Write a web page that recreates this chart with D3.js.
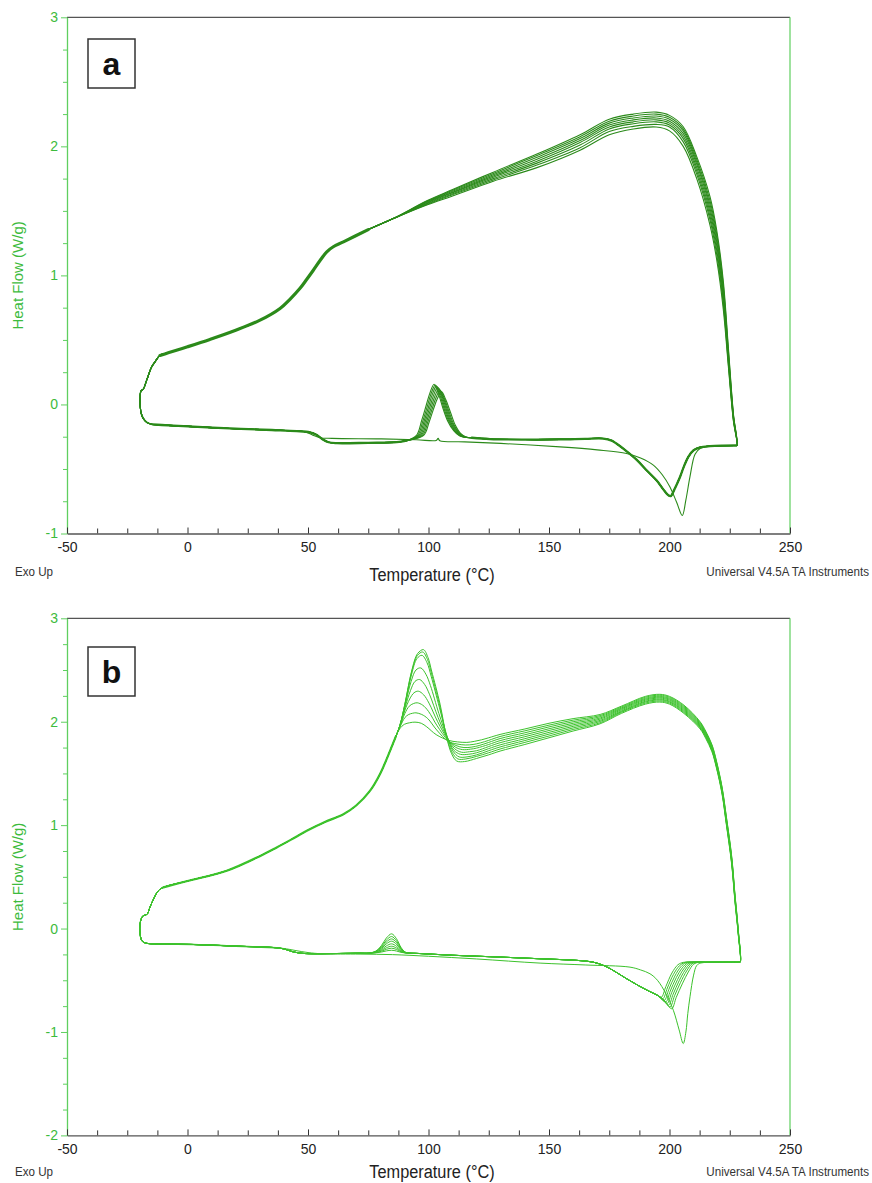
<!DOCTYPE html>
<html>
<head>
<meta charset="utf-8">
<script src="https://cdn.jsdelivr.net/npm/d3@7"></script>
<style>
  body { margin: 0; background: #fff; }
  svg { display: block; }
</style>
</head>
<body>
<svg id="chart" width="872" height="1183"></svg>
<script>
// ---------------- shared axis values ----------------
const X_TICKS = [-50, 0, 50, 100, 150, 200, 250];
const A_Y_TICKS = [-1, 0, 1, 2, 3];
const B_Y_TICKS = [-2, -1, 0, 1, 2, 3];
const X_TITLE = "Temperature (°C)";
const Y_TITLE = "Heat Flow (W/g)";
const NOTE_LEFT = "Exo Up";
const NOTE_RIGHT = "Universal V4.5A TA Instruments";

// ---------------- panel a : [T (°C), heat flow (W/g)] ----------------
// return from the cooling end at -20 °C into the next heating scan
const A_LEFT_END = [[-11.4,0.38],[-13.5,0.33],[-14.9,0.29],[-16.9,0.19],[-18.3,0.12],[-19.3,0.105],[-19.7,0.04],[-19.6,-0.02],[-19.2,-0.07],[-18.3,-0.11],[-16.8,-0.14]];
// heating scan, common start
const A_HEAT_START = [[-14.5,-0.155],[-8,-0.162],[-1.7,-0.168],[17.6,-0.186],[35,-0.198],[45.3,-0.206]];
// heating scans 2-8 : glass step
const A_HEAT_LATER = [[50.8,-0.216],[53.5,-0.235],[56,-0.27],[58.5,-0.293],[62,-0.3],[75,-0.297],[86.8,-0.292],[91,-0.28]];
// heating scans 2-8 : cold crystallisation peaks
const A_COLD_CRYST = [
  [[95,-0.24],[97.2,-0.122],[99,-0.01],[100.6,0.09],[102.3,0.157],[104,0.09],[106,-0.03],[108,-0.13],[110.3,-0.2],[113,-0.245]],
  [[95.5,-0.24],[97.7,-0.125],[99.5,-0.015],[101.1,0.085],[102.8,0.15],[104.5,0.085],[106.5,-0.035],[108.5,-0.135],[110.8,-0.205],[113.5,-0.246]],
  [[96,-0.24],[98.2,-0.128],[100,-0.02],[101.6,0.078],[103.3,0.142],[105,0.078],[107,-0.04],[109,-0.14],[111.3,-0.21],[114,-0.248]],
  [[96.5,-0.24],[98.7,-0.13],[100.5,-0.025],[102.1,0.07],[103.8,0.133],[105.5,0.07],[107.5,-0.045],[109.5,-0.145],[111.8,-0.213],[114.5,-0.25]],
  [[97,-0.24],[99.2,-0.133],[101,-0.03],[102.6,0.062],[104.3,0.122],[106,0.06],[108,-0.05],[110,-0.15],[112.3,-0.216],[115,-0.252]],
  [[97.5,-0.24],[99.7,-0.136],[101.5,-0.035],[103.1,0.052],[104.8,0.11],[106.5,0.05],[108.5,-0.055],[110.5,-0.155],[112.8,-0.22],[115.5,-0.254]],
  [[98,-0.24],[100.2,-0.14],[102,-0.04],[103.6,0.042],[105.4,0.098],[107.1,0.04],[109.1,-0.06],[111.1,-0.16],[113.3,-0.224],[116,-0.256]]
];
// heating scans 2-8 : baseline and melting
const A_HEAT_LATER_END = [[118,-0.258],[125.5,-0.268],[140,-0.272],[154.6,-0.271],[165,-0.266],[172.5,-0.264],[176,-0.28],[178.1,-0.305],[182,-0.36],[186.4,-0.43],[190.5,-0.51],[194.7,-0.59],[197.5,-0.66],[199.5,-0.703],[200.5,-0.71],[202,-0.66],[204.4,-0.56],[206,-0.48],[207.8,-0.406],[210,-0.355],[212.7,-0.332],[216.8,-0.323],[222,-0.319],[227.5,-0.318]];
// first heating scan
const A_HEAT_FIRST = [[49,-0.213],[52,-0.238],[55,-0.258],[60,-0.263],[80,-0.267],[95,-0.273],[103.2,-0.279],[104,-0.263],[104.7,-0.281],[115,-0.29],[130,-0.302],[154.6,-0.329],[170,-0.352],[182.2,-0.38],[188,-0.415],[193.3,-0.47],[197,-0.545],[200.2,-0.64],[203,-0.76],[205.3,-0.86],[206.8,-0.74],[208.5,-0.56],[210.6,-0.385],[212.7,-0.342],[216,-0.326],[222,-0.32],[227.5,-0.318]];
// cooling scans, common low-temperature part (increasing T)
const A_COOL_LEFT = [[-11.4,0.38],[-8,0.4],[0,0.447],[9.3,0.504],[20,0.575],[30.1,0.653],[38.4,0.744],[42.5,0.815],[46.7,0.9],[49.5,0.97],[52.2,1.04],[55,1.115],[57.8,1.183],[60.5,1.222],[64.7,1.26],[75,1.355],[85.4,1.44]];
// cooling scans 1-8, high-temperature part
const A_COOL_T = [85.4, 99.3, 110, 126.9, 145, 162.9, 175, 185, 194.5, 200, 205.7, 211.3, 216.8, 219.6, 222.3, 224.4, 226.5, 228.0];
const A_COOL_HF = [
  [1.44,1.578,1.665,1.80,1.94,2.09,2.21,2.25,2.265,2.24,2.152,1.92,1.61,1.35,0.96,0.447,-0.07,-0.318],
  [1.44,1.574,1.66,1.79,1.93,2.075,2.195,2.235,2.25,2.225,2.135,1.9,1.58,1.32,0.93,0.425,-0.078,-0.318],
  [1.44,1.57,1.652,1.78,1.915,2.06,2.18,2.22,2.235,2.21,2.12,1.88,1.55,1.29,0.90,0.40,-0.086,-0.318],
  [1.44,1.565,1.645,1.77,1.90,2.045,2.165,2.205,2.22,2.195,2.10,1.86,1.52,1.26,0.87,0.38,-0.094,-0.318],
  [1.44,1.56,1.64,1.76,1.885,2.03,2.15,2.19,2.205,2.18,2.08,1.835,1.49,1.23,0.84,0.36,-0.102,-0.318],
  [1.44,1.555,1.632,1.75,1.87,2.01,2.135,2.175,2.19,2.165,2.06,1.81,1.46,1.195,0.81,0.34,-0.11,-0.318],
  [1.44,1.55,1.625,1.74,1.855,1.99,2.115,2.155,2.17,2.15,2.035,1.785,1.43,1.16,0.78,0.32,-0.118,-0.318],
  [1.44,1.545,1.615,1.73,1.835,1.97,2.09,2.135,2.15,2.12,2.00,1.75,1.39,1.12,0.74,0.30,-0.126,-0.318]
];

// ---------------- panel b : [T (°C), heat flow (W/g)] ----------------
const B_LEFT_END = [[-10,0.398],[-12.1,0.366],[-14,0.29],[-15.6,0.205],[-16.7,0.14],[-17.6,0.13],[-18.6,0.12],[-19.5,0.07],[-19.8,0.0],[-19.5,-0.08],[-18.7,-0.125],[-17,-0.142]];
const B_HEAT_START = [[-13,-0.15],[2.4,-0.154],[20,-0.17],[37,-0.186]];
const B_HEAT_LATER = [[40.5,-0.2],[43.9,-0.226],[48,-0.24],[52.2,-0.244],[60,-0.242],[71.6,-0.238]];
// heating scans 2-9 : small exotherm near 85 °C
const B_BUMP = [
  [[75,-0.238],[78,-0.219],[80.5,-0.163],[82.5,-0.092],[84.7,-0.051],[86.7,-0.098],[88.6,-0.182],[90.3,-0.227],[92.5,-0.238]],
  [[75,-0.238],[78,-0.222],[80.5,-0.174],[82.5,-0.112],[84.7,-0.077],[86.7,-0.117],[88.6,-0.19],[90.3,-0.228],[92.5,-0.238]],
  [[75,-0.238],[78,-0.224],[80.5,-0.183],[82.5,-0.13],[84.7,-0.1],[86.7,-0.134],[88.6,-0.197],[90.3,-0.23],[92.5,-0.238]],
  [[75,-0.238],[78,-0.226],[80.5,-0.192],[82.5,-0.148],[84.7,-0.122],[86.7,-0.151],[88.6,-0.203],[90.3,-0.231],[92.5,-0.238]],
  [[75,-0.238],[78,-0.229],[80.5,-0.202],[82.5,-0.168],[84.7,-0.148],[86.7,-0.171],[88.6,-0.211],[90.3,-0.233],[92.5,-0.238]],
  [[75,-0.238],[78,-0.231],[80.5,-0.211],[82.5,-0.186],[84.7,-0.171],[86.7,-0.188],[88.6,-0.218],[90.3,-0.234],[92.5,-0.238]],
  [[75,-0.238],[78,-0.233],[80.5,-0.219],[82.5,-0.201],[84.7,-0.19],[86.7,-0.202],[88.6,-0.224],[90.3,-0.235],[92.5,-0.238]],
  [[75,-0.238],[78,-0.235],[80.5,-0.227],[82.5,-0.216],[84.7,-0.21],[86.7,-0.217],[88.6,-0.23],[90.3,-0.236],[92.5,-0.238]]
];
const B_HEAT_LATER_MID = [[95,-0.24],[110,-0.258],[130,-0.276],[146.3,-0.292],[155,-0.3],[162.9,-0.31],[168.4,-0.325],[173,-0.36],[177,-0.41],[182.2,-0.485],[187,-0.55],[191.9,-0.61],[195,-0.645]];
// heating scans 2-9 : melting endotherms
const B_MELT = [
  [[196.6,-0.665],[198.5,-0.56],[201,-0.43],[203.5,-0.35],[205.7,-0.327],[209,-0.323]],
  [[197.2,-0.68],[199.1,-0.575],[201.6,-0.445],[204.1,-0.36],[206.3,-0.328],[209.5,-0.323]],
  [[197.8,-0.695],[199.7,-0.59],[202.2,-0.46],[204.7,-0.37],[206.9,-0.33],[210,-0.324]],
  [[198.4,-0.71],[200.3,-0.605],[202.8,-0.475],[205.3,-0.38],[207.5,-0.333],[210.5,-0.324]],
  [[197,-0.675],[199,-0.725],[200.9,-0.62],[203.4,-0.49],[205.9,-0.39],[208.1,-0.336],[211,-0.325]],
  [[197,-0.677],[199.6,-0.74],[201.5,-0.635],[204,-0.505],[206.5,-0.4],[208.7,-0.339],[211.5,-0.325]],
  [[197.5,-0.69],[200.2,-0.757],[202.1,-0.65],[204.6,-0.52],[207.1,-0.41],[209.3,-0.342],[212,-0.325]],
  [[198,-0.7],[200.9,-0.775],[202.8,-0.665],[205.3,-0.535],[207.8,-0.42],[210,-0.345],[212.5,-0.325]]
];
const B_HEAT_LATER_END = [[215,-0.325],[222,-0.325],[228.8,-0.325]];
const B_HEAT_FIRST = [[41,-0.196],[45,-0.213],[50,-0.232],[56,-0.244],[71.6,-0.247],[85,-0.252],[100,-0.268],[120,-0.294],[146.3,-0.334],[165,-0.352],[183.6,-0.373],[188,-0.4],[191.9,-0.437],[195,-0.5],[198.5,-0.63],[201.6,-0.79],[204,-0.98],[205.7,-1.112],[206.8,-1.0],[207.6,-0.82],[208.5,-0.66],[210,-0.45],[211.3,-0.357],[213,-0.333],[216,-0.327],[222,-0.325],[228.8,-0.325]];
// cooling scans, common low-temperature part (increasing T)
const B_COOL_LEFT = [[-10,0.398],[0,0.46],[16.3,0.559],[30,0.7],[37,0.784],[43,0.86],[49.5,0.945],[57,1.03],[64.7,1.106],[70,1.19],[75.7,1.331],[80,1.5],[84,1.716],[86.5,1.86]];
// cooling scans 1-9 : crystallisation exotherms
const B_XTAL = [
  [[88.2,1.97],[90.2,2.17],[93,2.49],[95.5,2.66],[97.9,2.697],[99.8,2.62],[101.3,2.49],[104.8,2.17],[107.5,1.85],[109.6,1.69],[111.7,1.62],[115,1.615],[120,1.645],[125,1.68]],
  [[88.2,1.97],[90.2,2.17],[93,2.48],[95.4,2.64],[97.6,2.674],[99.6,2.6],[101.2,2.47],[104.6,2.16],[107.6,1.85],[109.9,1.7],[112.2,1.64],[115.5,1.64],[120,1.665],[125,1.7]],
  [[88.2,1.97],[90.2,2.16],[93,2.46],[95.2,2.61],[97.3,2.642],[99.4,2.57],[101.1,2.44],[104.5,2.14],[107.7,1.86],[110.2,1.715],[112.7,1.66],[116,1.66],[120,1.68],[125,1.72]],
  [[88.2,1.97],[90.2,2.15],[92.8,2.39],[94.8,2.5],[96.8,2.52],[98.9,2.46],[100.8,2.35],[104.3,2.08],[107.8,1.85],[110.5,1.725],[113.2,1.685],[116.5,1.685],[120,1.7],[125,1.74]],
  [[88.2,1.965],[90.2,2.13],[92.5,2.3],[94.4,2.39],[96.3,2.408],[98.4,2.36],[100.5,2.26],[104,2.04],[107.9,1.84],[110.8,1.74],[113.7,1.705],[117,1.71],[120,1.72],[125,1.76]],
  [[88.2,1.96],[90.2,2.11],[92.2,2.22],[94,2.28],[95.8,2.295],[98,2.26],[100.2,2.18],[103.8,2.0],[108,1.83],[111.1,1.755],[114.2,1.73],[117.5,1.735],[120,1.745],[125,1.78]],
  [[88.2,1.955],[90.2,2.08],[92,2.15],[93.7,2.175],[95.3,2.183],[97.6,2.16],[100,2.1],[103.6,1.96],[108.1,1.82],[111.4,1.77],[114.7,1.75],[118,1.755],[121,1.77],[125,1.8]],
  [[88.2,1.95],[90.2,2.04],[91.8,2.07],[93.4,2.082],[94.8,2.086],[97.2,2.07],[99.7,2.03],[103.4,1.92],[108.2,1.81],[111.8,1.785],[115.3,1.775],[118.5,1.78],[121.5,1.795],[125,1.82]],
  [[88,1.93],[90,1.975],[92.2,1.99],[94.4,1.996],[97,1.985],[99.3,1.95],[103.2,1.875],[108.3,1.82],[112,1.805],[115.9,1.8],[119,1.81],[122,1.825],[125,1.845]]
];
const B_COOL_T = [129.7, 140, 150, 160, 171.2, 180, 190, 196, 200, 206, 212.7, 215, 217.6, 219.5, 221.8, 223.5, 225.8, 227.2, 228.5, 229.3];
const B_COOL_HF = [
  [1.716,1.78,1.845,1.91,1.98,2.08,2.17,2.19,2.17,2.08,1.93,1.84,1.71,1.55,1.30,1.02,0.62,0.25,-0.05,-0.325],
  [1.736,1.80,1.862,1.925,1.99,2.09,2.18,2.20,2.18,2.09,1.94,1.85,1.72,1.56,1.31,1.03,0.63,0.26,-0.045,-0.325],
  [1.756,1.818,1.88,1.94,2.002,2.097,2.19,2.21,2.19,2.10,1.948,1.858,1.728,1.568,1.318,1.04,0.64,0.268,-0.038,-0.325],
  [1.776,1.836,1.897,1.955,2.013,2.105,2.198,2.218,2.198,2.11,1.956,1.866,1.736,1.576,1.326,1.05,0.65,0.276,-0.031,-0.325],
  [1.797,1.855,1.915,1.97,2.025,2.115,2.208,2.228,2.208,2.12,1.965,1.875,1.745,1.585,1.335,1.06,0.66,0.285,-0.025,-0.325],
  [1.817,1.874,1.932,1.985,2.036,2.124,2.217,2.237,2.217,2.13,1.974,1.884,1.754,1.594,1.344,1.07,0.67,0.294,-0.019,-0.325],
  [1.837,1.893,1.95,2.0,2.048,2.132,2.226,2.246,2.226,2.14,1.983,1.893,1.763,1.603,1.353,1.08,0.68,0.303,-0.013,-0.325],
  [1.857,1.912,1.967,2.015,2.059,2.141,2.236,2.256,2.236,2.15,1.992,1.902,1.772,1.612,1.362,1.09,0.69,0.312,-0.006,-0.325],
  [1.877,1.93,1.985,2.03,2.07,2.15,2.245,2.265,2.245,2.16,2.00,1.91,1.78,1.62,1.37,1.10,0.70,0.32,0.0,-0.325]
];

// ---------------- assemble closed heat/cool loops ----------------
const zip = (ts, hs) => ts.map((t, i) => [t, hs[i]]);

function loop(heat, coolIncreasing, leftEnd) {
  return [...heat, ...coolIncreasing.slice().reverse(), ...leftEnd.slice(1), heat[0]];
}

const aLoops = A_COOL_HF.map((row, k) => {
  const heat = k === 0
    ? [...A_HEAT_START, ...A_HEAT_FIRST]
    : [...A_HEAT_START, ...A_HEAT_LATER, ...A_COLD_CRYST[k - 1], ...A_HEAT_LATER_END];
  const cool = [...A_COOL_LEFT, ...zip(A_COOL_T, row).slice(1)];
  return loop(heat, cool, A_LEFT_END);
});

const bLoops = B_COOL_HF.map((row, k) => {
  const heat = k === 0
    ? [...B_HEAT_START, ...B_HEAT_FIRST]
    : [...B_HEAT_START, ...B_HEAT_LATER, ...B_BUMP[k - 1], ...B_HEAT_LATER_MID, ...B_MELT[k - 1], ...B_HEAT_LATER_END];
  const cool = [...B_COOL_LEFT, ...B_XTAL[k], ...zip(B_COOL_T, row)];
  return loop(heat, cool, B_LEFT_END);
});

// ---------------- drawing ----------------
const AXIS_GREEN = "#5fcf5f";
const LABEL_GREEN = "#3dbb3d";
const FRAME_GREY = "#555";
const SANS = "'Liberation Sans', Arial, sans-serif";

const svg = d3.select("#chart");

const panels = [
  {
    top: 17.3, bottom: 533.5, yDomain: [-1, 3], yTicks: A_Y_TICKS,
    loops: aLoops, color: "#2b8a1a", width: 1.1,
    bundles: [
      { pts: [...A_HEAT_START, ...A_HEAT_LATER], w: 2.3 },
      { pts: A_HEAT_LATER_END, w: 2.3 },
      { pts: A_COOL_LEFT.slice(0, -1), w: 3.2 }
    ],
    tag: "a", box: [88, 39, 47, 49],
    titleY: 581, noteY: 576
  },
  {
    top: 618.3, bottom: 1135.4, yDomain: [-2, 3], yTicks: B_Y_TICKS,
    loops: bLoops, color: "#3cc22c", width: 1.0,
    bundles: [
      { pts: B_HEAT_START, w: 1.6 },
      { pts: B_COOL_LEFT, w: 2.2 }
    ],
    tag: "b", box: [88, 647, 47, 49],
    titleY: 1177.5, noteY: 1176
  }
];

// condensed-looking caption text (horizontal squeeze of a regular face)
function narrowText(g, txt, x, yBase, size, anchor, fill) {
  g.append("text")
    .attr("transform", `translate(${x},${yBase}) scale(0.86,1)`)
    .attr("text-anchor", anchor)
    .style("font-family", SANS).style("font-size", size + "px")
    .attr("fill", fill)
    .text(txt);
}

panels.forEach(p => {
  const x = d3.scaleLinear().domain([-50, 250]).range([67, 790]);
  const y = d3.scaleLinear().domain(p.yDomain).range([p.bottom, p.top]);
  const g = svg.append("g");

  const line = d3.line()
    .x(d => x(d[0]))
    .y(d => y(d[1]))
    .curve(d3.curveCatmullRom.alpha(0.5));

  // thermograms
  g.append("g").selectAll("path").data(p.loops).join("path")
    .attr("d", line)
    .attr("fill", "none")
    .attr("stroke", p.color)
    .attr("stroke-width", p.width)
    .attr("stroke-linejoin", "round");

  // stretches where all scans coincide
  g.append("g").selectAll("path").data(p.bundles).join("path")
    .attr("d", d => line(d.pts))
    .attr("fill", "none")
    .attr("stroke", p.color)
    .attr("stroke-width", d => d.w)
    .attr("stroke-linecap", "round")
    .attr("stroke-linejoin", "round");

  // frame: top grey, right green
  g.append("line")
    .attr("x1", x(-50)).attr("x2", x(250)).attr("y1", p.top).attr("y2", p.top)
    .attr("stroke", FRAME_GREY).attr("stroke-width", 1.2);
  g.append("line")
    .attr("x1", x(250)).attr("x2", x(250)).attr("y1", p.top).attr("y2", p.bottom)
    .attr("stroke", AXIS_GREEN).attr("stroke-width", 1.2);

  // y axis (minor then major)
  const yMinor = d3.range(p.yDomain[0], p.yDomain[1] + 1e-9, 0.25).filter(v => !Number.isInteger(v));
  const gyMinor = g.append("g").attr("transform", `translate(${x(-50)},0)`)
    .call(d3.axisLeft(y).tickValues(yMinor).tickSize(4).tickSizeOuter(0).tickFormat(""));
  gyMinor.select(".domain").remove();
  gyMinor.selectAll(".tick line").attr("stroke", AXIS_GREEN);

  const gy = g.append("g").attr("transform", `translate(${x(-50)},0)`)
    .call(d3.axisLeft(y).tickValues(p.yTicks).tickSize(6).tickSizeOuter(0).tickPadding(3).tickFormat(d => String(d)));
  gy.select(".domain").attr("stroke", AXIS_GREEN).attr("stroke-width", 1.3);
  gy.selectAll(".tick line").attr("stroke", AXIS_GREEN);
  gy.selectAll(".tick text").attr("fill", LABEL_GREEN).style("font-family", SANS).style("font-size", "14px");

  // x axis (minor then major), ticks pointing inward
  const xMinor = d3.range(-50, 250 + 1e-9, 12.5).filter(v => v % 50 !== 0);
  const gxMinor = g.append("g").attr("transform", `translate(0,${p.bottom})`)
    .call(d3.axisBottom(x).tickValues(xMinor).tickSizeInner(-5).tickSizeOuter(0).tickFormat(""));
  gxMinor.select(".domain").remove();
  gxMinor.selectAll(".tick line").attr("stroke", "#333");

  const gx = g.append("g").attr("transform", `translate(0,${p.bottom})`)
    .call(d3.axisBottom(x).tickValues(X_TICKS).tickSizeInner(-6).tickSizeOuter(0).tickPadding(9).tickFormat(d => String(d)));
  gx.select(".domain").attr("stroke", FRAME_GREY).attr("stroke-width", 1.4);
  gx.selectAll(".tick line").attr("stroke", "#333");
  gx.selectAll(".tick text").attr("fill", "#222").style("font-family", SANS).style("font-size", "14px");

  // titles and notes
  narrowText(g, X_TITLE, 432, p.titleY, 19, "middle", "#222");
  narrowText(g, NOTE_LEFT, 15, p.noteY, 13.5, "start", "#333");
  narrowText(g, NOTE_RIGHT, 869, p.noteY, 13.5, "end", "#333");
  g.append("text")
    .attr("transform", `translate(23,${(p.top + p.bottom) / 2}) rotate(-90)`)
    .attr("text-anchor", "middle")
    .style("font-family", SANS).style("font-size", "15px").attr("fill", LABEL_GREEN)
    .text(Y_TITLE);

  // panel tag
  const [bx, by, bw, bh] = p.box;
  g.append("rect")
    .attr("x", bx).attr("y", by).attr("width", bw).attr("height", bh)
    .attr("fill", "#fff").attr("stroke", "#333").attr("stroke-width", 1.5);
  g.append("text")
    .attr("x", bx + bw / 2).attr("y", by + bh / 2 + 11)
    .attr("text-anchor", "middle")
    .style("font-family", SANS).style("font-weight", "bold").style("font-size", "32px").attr("fill", "#111")
    .text(p.tag);
});
</script>
</body>
</html>
